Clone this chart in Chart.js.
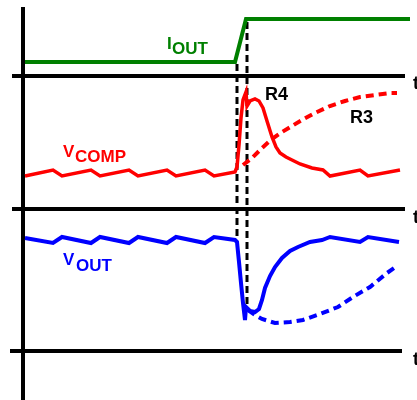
<!DOCTYPE html>
<html>
<head>
<meta charset="utf-8">
<script src="https://cdn.jsdelivr.net/npm/chart.js@4.4.1/dist/chart.umd.min.js"></script>
<style>
  html, body { margin: 0; padding: 0; background: #fff; }
  #wrap { width: 417px; height: 400px; }
</style>
</head>
<body>
<div id="wrap"><canvas id="timing"></canvas></div>
<script>
// time runs left to right 0..417, level runs top to bottom 0..400

// I_OUT load step
var ioutT = [25, 235, 246, 410];
var ioutV = [62, 62, 19, 19];

// V_COMP, solid = R4 response
var vcompT = [25, 53, 62, 91, 100, 129, 138, 167, 176, 205, 214, 235, 237, 239, 241, 243, 246, 247, 250, 255, 259, 263, 267, 272, 276, 280, 286, 292, 300, 312, 323, 330, 360, 368, 400];
var vcompV = [176, 170, 176, 170, 176, 170, 176, 170, 176, 170, 176, 172, 167, 145, 118, 100, 92, 106, 101, 99, 101, 108, 121, 137, 147, 153, 157, 160, 164, 168, 170, 176, 170, 176, 170];

// V_COMP, dashed = R3 response
var vcompR3T = [243, 252, 262, 272, 282, 292, 302, 315, 330, 345, 360, 375, 390, 397];
var vcompR3V = [165, 158, 148, 139, 132, 126, 120, 113, 106, 101, 97, 95, 93, 93];

// V_OUT, solid = R4 response
var voutT = [25, 53, 62, 91, 100, 129, 138, 167, 176, 205, 214, 235, 237, 239, 241, 243, 245, 246, 250, 255, 259, 262, 265, 270, 275, 282, 290, 298, 310, 322, 330, 360, 368, 399];
var voutV = [238, 243, 237, 243, 237, 243, 237, 243, 237, 243, 237, 240, 242, 262, 283, 303, 320, 307, 311, 312, 309, 300, 288, 276, 267, 258, 251, 247, 242, 240, 237, 242, 237, 242];

// V_OUT, dashed = R3 response
var voutR3T = [248, 255, 262, 275, 290, 303, 320, 338, 353, 370, 387, 397];
var voutR3V = [310, 315, 319, 323, 322, 320, 314, 307, 297, 287, 273, 266];

// step markers
var markAT = [237, 237];
var markAV = [64, 240];
var markBT = [247, 247];
var markBV = [22, 305];

// axes of the three traces
var axisT = [23, 23];
var axisV = [7, 400];
var baseStart = [12, 12, 10];
var baseEnd = [405, 405, 402];
var baseLevel = [76, 209, 351];

// text
var labelText = ['I', 'OUT', 'V', 'COMP', 'V', 'OUT', 'R4', 'R3', 't', 't', 't'];
var labelT = [167, 172, 63, 75, 63, 76, 265, 350, 413, 413, 413];
var labelV = [49, 54, 157, 162, 265, 271, 100, 123, 89, 223, 365];
var labelColor = ['#008000', '#008000', '#ff0000', '#ff0000', '#0000ff', '#0000ff', '#000', '#000', '#000', '#000', '#000'];
var labelSize = [17, 17, 17, 17, 17, 17, 18, 18, 18, 18, 18];

function pts(t, v) {
  return t.map(function (x, i) { return { x: x, y: v[i] }; });
}

function trace(t, v, color, width, dash) {
  return {
    data: pts(t, v),
    showLine: true,
    borderColor: color,
    borderWidth: width,
    borderDash: dash || [],
    pointRadius: 0,
    tension: 0,
    fill: false,
    clip: false
  };
}

document.addEventListener('DOMContentLoaded', function () {
  var datasets = [
    trace(ioutT, ioutV, '#008000', 4),
    trace(vcompT, vcompV, '#ff0000', 3.5),
    trace(vcompR3T, vcompR3V, '#ff0000', 4, [8, 5]),
    trace(voutT, voutV, '#0000ff', 4),
    trace(voutR3T, voutR3V, '#0000ff', 4, [8, 5]),
    trace(markAT, markAV, '#000', 3, [7, 4]),
    trace(markBT, markBV, '#000', 3, [7, 4]),
    trace(axisT, axisV, '#000', 4)
  ];
  for (var i = 0; i < baseLevel.length; i++) {
    datasets.push(trace([baseStart[i], baseEnd[i]], [baseLevel[i], baseLevel[i]], '#000', 4));
  }

  var textPlugin = {
    id: 'traceText',
    afterDatasetsDraw: function (chart) {
      var ctx = chart.ctx;
      var sx = chart.scales.x, sy = chart.scales.y;
      ctx.save();
      ctx.textAlign = 'left';
      ctx.textBaseline = 'alphabetic';
      for (var i = 0; i < labelText.length; i++) {
        ctx.font = 'bold ' + labelSize[i] + 'px "Liberation Sans", Arial, sans-serif';
        ctx.fillStyle = labelColor[i];
        ctx.fillText(labelText[i], sx.getPixelForValue(labelT[i]), sy.getPixelForValue(labelV[i]));
      }
      ctx.restore();
    }
  };

  var ctx = document.getElementById('timing').getContext('2d');
  new Chart(ctx, {
    type: 'scatter',
    data: { datasets: datasets },
    options: {
      responsive: true,
      maintainAspectRatio: false,
      animation: false,
      events: [],
      layout: { padding: 0 },
      plugins: { legend: { display: false }, tooltip: { enabled: false } },
      scales: {
        x: { type: 'linear', min: 0, max: 417, display: false },
        y: { type: 'linear', min: 0, max: 400, reverse: true, display: false }
      }
    },
    plugins: [textPlugin]
  });
});
</script>
</body>
</html>
